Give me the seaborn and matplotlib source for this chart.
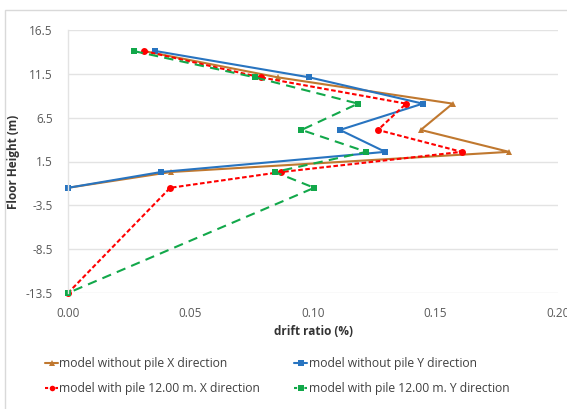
import matplotlib
matplotlib.use("Agg")
import matplotlib.pyplot as plt
import matplotlib.patches as mpatches
from matplotlib.lines import Line2D
import seaborn as sns
import pandas as pd

# Storey drift profiles
heights = [14.1, 11.1, 8.1, 5.1, 2.6, 0.3, -1.5, -13.5]

no_pile_x = [0.031, 0.0856, 0.157, 0.144, 0.180, 0.042, 0.0]
no_pile_y = [0.0357, 0.0985, 0.1448, 0.111, 0.1295, 0.038, 0.0]
pile_x = [0.031, 0.0786, 0.138, 0.1265, 0.1607, 0.087, 0.0417, 0.0]
pile_y = [0.0268, 0.0763, 0.1184, 0.0953, 0.1218, 0.0844, 0.1005, 0.0]

labels = [
    "model without pile X direction",
    "model without pile Y direction",
    "model with pile 12.00 m. X direction",
    "model with pile 12.00 m. Y direction",
]
y_ticks = [-13.5, -8.5, -3.5, 1.5, 6.5, 11.5, 16.5]
x_ticks = [0.00, 0.05, 0.10, 0.15, 0.20]

sns.set_theme(style="white")
plt.rcParams["font.family"] = ["Open Sans", "DejaVu Sans"]

fig = plt.figure(figsize=(5.67, 4.09), dpi=100)
W, H = 567, 409
ax = fig.add_axes([68 / W, 1 - 293 / H, (558 - 68) / W, (293 - 30) / H])

# outer chart frame
fig.patches.append(mpatches.Rectangle((5 / W, -0.1), 1.2, 1 - 10 / H + 0.1,
                                      transform=fig.transFigure, fill=False,
                                      edgecolor="#d9d9d9", linewidth=1.0, zorder=0))

styles = [
    dict(color="#c0782f", marker="^", lw=1.5, ms=5, dashes=None),
    dict(color="#2874c0", marker="s", lw=1.5, ms=5, dashes=None),
    dict(color="#ff0000", marker="o", lw=1.5, ms=5, dashes=(2.2, 1.2)),
    dict(color="#12a84a", marker="s", lw=1.5, ms=5, dashes=(4.5, 3)),
]
series = [no_pile_x, no_pile_y, pile_x, pile_y]

handles = []
for vals, lab, st in zip(series, labels, styles):
    df = pd.DataFrame({"drift": vals, "height": heights[:len(vals)]})
    kw = dict(color=st["color"], marker=st["marker"], markersize=st["ms"],
              markeredgewidth=0, linewidth=st["lw"], clip_on=False)
    if st["dashes"] is not None:
        kw["dashes"] = st["dashes"]
    sns.lineplot(data=df, x="drift", y="height", sort=False, estimator=None,
                 ax=ax, **kw)
    h = Line2D([0], [0], color=st["color"], marker=st["marker"], markersize=4,
               markeredgewidth=0, linewidth=1.5,
               **({"dashes": (1.5, 1)} if st["dashes"] else {}))
    handles.append(h)

ax.set_xlim(0, 0.20)
ax.set_ylim(-13.5, 16.5)
ax.set_xticks(x_ticks)
ax.set_xticklabels([f"{v:.2f}" for v in x_ticks])
ax.set_yticks(y_ticks)
ax.set_yticklabels([f"{v:.1f}" for v in y_ticks])
ax.grid(axis="y", color="#e3e3e3", linewidth=1.0)
ax.set_axisbelow(True)
for s in ["top", "right", "bottom"]:
    ax.spines[s].set_visible(False)
ax.spines["left"].set_color("#e3e3e3")
ax.spines["left"].set_linewidth(1.0)
ax.tick_params(axis="x", length=0, labelsize=8.5, labelcolor="#595959", pad=10)
ax.tick_params(axis="y", length=0, labelsize=8.5, labelcolor="#595959", pad=11)

ax.set_xlabel("drift ratio (%)", fontsize=8.5, fontweight="bold", color="#333333",
              labelpad=4)
ax.set_ylabel("Floor Height (m)", fontsize=8.5, fontweight="bold", color="#333333")
ax.yaxis.set_label_coords((20 - 68) / 490, 0.5)

# row-wise legend order (X/Y pairs side by side)
order = [0, 2, 1, 3]
fig.legend([handles[i] for i in order], [labels[i] for i in order],
           loc="center left", bbox_to_anchor=(34 / W, 1 - 376 / H),
           ncol=2, frameon=False, fontsize=8.7, handlelength=1.1, handletextpad=0.1,
           columnspacing=2.8, labelspacing=0.95, labelcolor="#404040")

fig.savefig("out.png", dpi=100)
